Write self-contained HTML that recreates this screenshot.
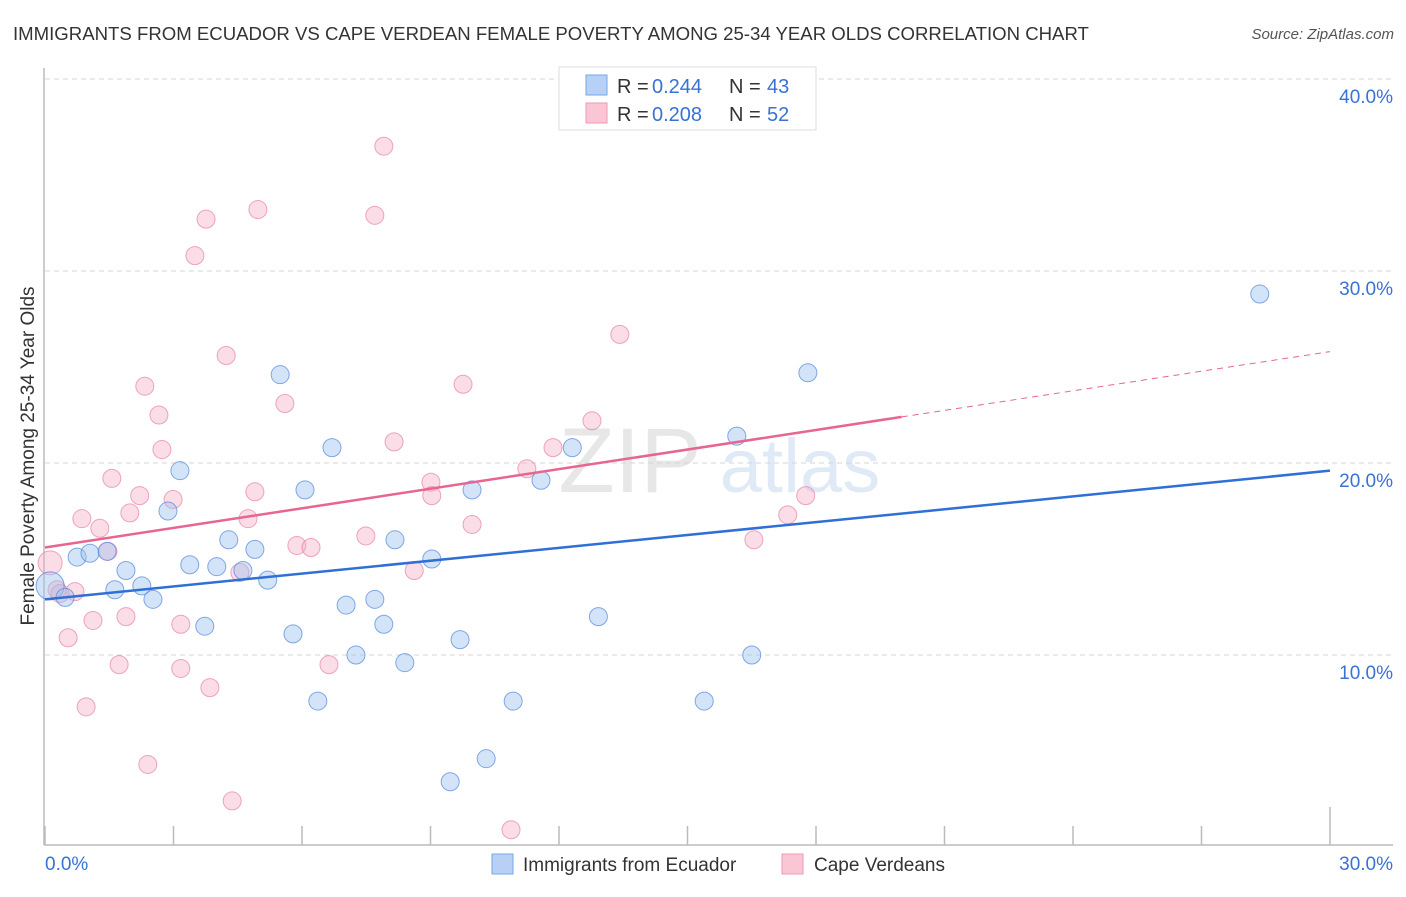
<!DOCTYPE html>
<html><head><meta charset="utf-8">
<style>
body{margin:0;background:#fff;font-family:"Liberation Sans",sans-serif;}
svg text{font-family:"Liberation Sans",sans-serif;}
</style></head>
<body>
<svg id="chart" width="1406" height="892" xmlns="http://www.w3.org/2000/svg">
<text x="13" y="40" font-size="18.6" fill="#333">IMMIGRANTS FROM ECUADOR VS CAPE VERDEAN FEMALE POVERTY AMONG 25-34 YEAR OLDS CORRELATION CHART</text>
<text x="1394" y="39" font-size="15" fill="#555" font-style="italic" text-anchor="end">Source: ZipAtlas.com</text>
<text transform="translate(34,456) rotate(-90)" font-size="19" fill="#333" text-anchor="middle">Female Poverty Among 25-34 Year Olds</text>
<g opacity="0.35">
<text x="630" y="492" font-size="92" fill="#bbb" font-family="Liberation Serif" text-anchor="middle">ZIP</text>
<text x="800" y="492" font-size="76" fill="#a8c4ea" text-anchor="middle">atlas</text>
</g>
<g id="grid"></g>
<g id="axes"></g>
<g id="marks"></g>
<g>
<rect x="559" y="67" width="257" height="63" fill="#fff" stroke="#ddd"/>
<rect x="586" y="75" width="21" height="20" fill="#b7d0f5" stroke="#7aa6e6"/>
<text x="617" y="93" font-size="20" fill="#333">R =</text>
<text x="652" y="93" font-size="20" fill="#3a72d4">0.244</text>
<text x="729" y="93" font-size="20" fill="#333">N =</text>
<text x="767" y="93" font-size="20" fill="#3a72d4">43</text>
<rect x="586" y="103" width="21" height="20" fill="#fac6d6" stroke="#ee9ab4"/>
<text x="617" y="121" font-size="20" fill="#333">R =</text>
<text x="652" y="121" font-size="20" fill="#3a72d4">0.208</text>
<text x="729" y="121" font-size="20" fill="#333">N =</text>
<text x="767" y="121" font-size="20" fill="#3a72d4">52</text>
</g>
<g>
<rect x="492" y="854" width="21" height="20" fill="#b7d0f5" stroke="#7aa6e6"/>
<text x="523" y="871" font-size="19" fill="#333">Immigrants from Ecuador</text>
<rect x="782" y="854" width="21" height="20" fill="#fac6d6" stroke="#ee9ab4"/>
<text x="814" y="871" font-size="19" fill="#333">Cape Verdeans</text>
</g>
</svg>
<script>
const yTicks=[10,20,30,40];
const yTickLabels=["10.0%","20.0%","30.0%","40.0%"];
const xTickVals=[0,3,6,9,12,15,18,21,24,27,30];
const blueX=[0.12,0.47,0.75,1.05,1.45,1.63,1.89,2.26,2.52,2.87,3.15,3.38,3.73,4.01,4.29,4.62,4.9,5.2,5.49,5.79,6.07,6.37,6.7,7.03,7.26,7.7,7.91,8.17,8.4,9.03,9.46,9.69,9.97,10.3,10.93,11.58,12.31,12.92,15.39,16.15,16.5,17.81,28.36];
const blueY=[13.6,13.0,15.1,15.3,15.4,13.4,14.4,13.6,12.9,17.5,19.6,14.7,11.5,14.6,16.0,14.4,15.5,13.9,24.6,11.1,18.6,7.6,20.8,12.6,10.0,12.9,11.6,16.0,9.6,15.0,3.4,10.8,18.6,4.6,7.6,19.1,20.8,12.0,7.6,21.4,10.0,24.7,28.8];
const blueR=[14,9,9,9,9,9,9,9,9,9,9,9,9,9,9,9,9,9,9,9,9,9,9,9,9,9,9,9,9,9,9,9,9,9,9,9,9,9,9,9,9,9,9];
const pinkX=[0.12,0.28,0.54,0.70,0.86,0.96,1.12,1.28,1.47,1.56,1.73,1.89,1.98,2.21,2.33,2.40,2.66,2.73,2.99,3.17,3.17,3.50,3.76,3.85,4.23,4.37,4.55,4.74,4.90,4.97,5.60,5.88,6.21,6.63,7.49,7.70,7.91,8.15,8.62,9.01,9.03,9.76,9.97,10.88,11.25,11.86,12.77,13.42,16.55,17.34,17.76,0.35];
const pinkY=[14.8,13.4,10.9,13.3,17.1,7.3,11.8,16.6,15.4,19.2,9.5,12.0,17.4,18.3,24.0,4.3,22.5,20.7,18.1,11.6,9.3,30.8,32.7,8.3,25.6,2.4,14.3,17.1,18.5,33.2,23.1,15.7,15.6,9.5,16.2,32.9,36.5,21.1,14.4,19.0,18.3,24.1,16.8,0.9,19.7,20.8,22.2,26.7,16.0,17.3,18.3,13.2];
const pinkR=[12,9,9,9,9,9,9,9,9,9,9,9,9,9,9,9,9,9,9,9,9,9,9,9,9,9,9,9,9,9,9,9,9,9,9,9,9,9,9,9,9,9,9,9,9,9,9,9,9,9,9,9];
const blueTrend=[12.9,19.6];
const pinkTrend=[15.6,25.8];
const pinkSolidEnd=20;

const NS="http://www.w3.org/2000/svg";
const X=v=>45+v/30*1285;
const Y=v=>847-v*19.2;
function mk(tag,attrs,parent){const e=document.createElementNS(NS,tag);for(const k in attrs)e.setAttribute(k,attrs[k]);parent.appendChild(e);return e;}
const grid=document.getElementById('grid'),axes=document.getElementById('axes'),marks=document.getElementById('marks');
yTicks.forEach((t,i)=>{
 const l=mk('line',{x1:45,x2:1393,y1:Y(t),y2:Y(t),stroke:'#d6d6d6','stroke-dasharray':'5,4'},grid);
 
 
 const tx=mk('text',{x:1393,y:Y(t)+24,'font-size':19,fill:'#3a72d4','text-anchor':'end'},axes);
 tx.textContent=yTickLabels[i];
 
 
});
const ya=mk('line',{x1:44,x2:44,y1:68,y2:845,stroke:'#bbb','stroke-width':1.5},axes);


const xa=mk('line',{x1:44,x2:1393,y1:845,y2:845,stroke:'#bbb','stroke-width':1.5},axes);


xTickVals.forEach((v,i)=>{
 const tk=mk('line',{x1:X(v),x2:X(v),y1:(i==xTickVals.length-1?807:826),y2:845,stroke:'#bbb','stroke-width':1.5},axes);
 
 
});
const xl0=mk('text',{x:45,y:870,'font-size':19,fill:'#3a72d4'},axes);xl0.textContent='0.0%';


const xl1=mk('text',{x:1393,y:870,'font-size':19,fill:'#3a72d4','text-anchor':'end'},axes);xl1.textContent='30.0%';



pinkX.forEach((v,i)=>{
 const c=mk('circle',{cx:X(v),cy:Y(pinkY[i]),r:pinkR[i],fill:'rgba(246,170,195,0.4)',stroke:'rgba(230,130,165,0.7)','stroke-width':1},marks);
 
 
});
blueX.forEach((v,i)=>{
 const c=mk('circle',{cx:X(v),cy:Y(blueY[i]),r:blueR[i],fill:'rgba(160,195,240,0.45)',stroke:'rgba(90,140,220,0.75)','stroke-width':1},marks);
 
 
});
const bl=mk('line',{x1:X(0),y1:Y(blueTrend[0]),x2:X(30),y2:Y(blueTrend[1]),stroke:'#2f6fd6','stroke-width':2.5},marks);


const pAt=v=>pinkTrend[0]+(pinkTrend[1]-pinkTrend[0])*v/30;
const pl=mk('line',{x1:X(0),y1:Y(pinkTrend[0]),x2:X(pinkSolidEnd),y2:Y(pAt(pinkSolidEnd)),stroke:'#e8658f','stroke-width':2.5},marks);


const pd=mk('line',{x1:X(pinkSolidEnd),y1:Y(pAt(pinkSolidEnd)),x2:X(30),y2:Y(pinkTrend[1]),stroke:'#e8658f','stroke-width':1,'stroke-dasharray':'6,5'},marks);


</script>
</body></html>
